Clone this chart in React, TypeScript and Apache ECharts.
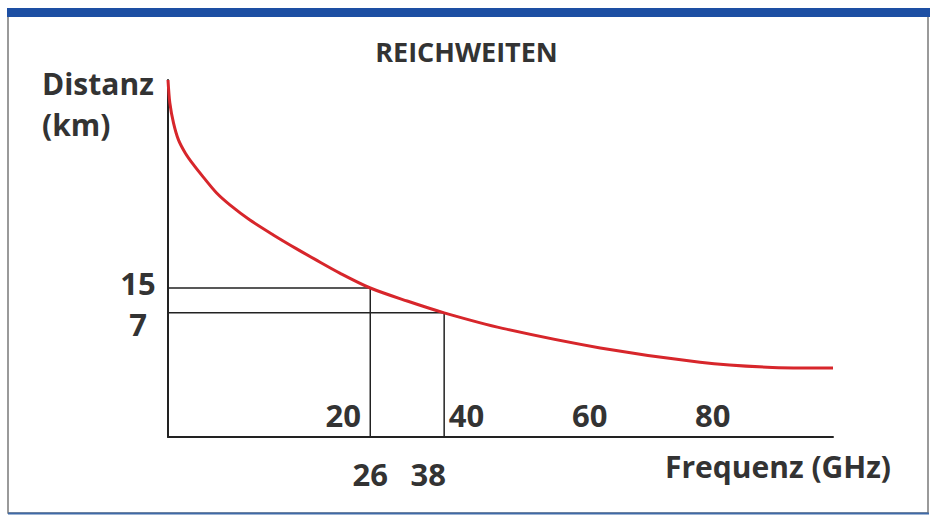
import React, { useEffect, useRef } from "react";
import * as echarts from "echarts";

// Curve: frequency (GHz) vs. range (km), read from the schematic
const curveFreq = [-6.85, -6.55, -5.95, -5.15, -4.05, -2.75, -1.15, 1.05, 3.25, 6.45, 10.25, 14.05, 17.05, 21.05, 26, 32, 38, 47.5, 63.35, 79.55, 90.45, 101.15];
const curveKm = [82, 74.6, 68.1, 62.7, 58.5, 54.8, 50.8, 45.6, 41.7, 36.9, 32.1, 27.6, 24.2, 19.8, 15, 10.8, 7, 2, -4.3, -8.9, -10.5, -10.8];

// Marked operating points
const markFreq = [26, 38];
const markKm = [15, 7];

// Frequency tick labels shown above the axis
const freqTicks = [20, 40, 60, 80];

const X_MIN = -6.85;
const X_MAX = 101.15;
const Y_MIN = -33;
const Y_MAX = 82;

const FONT = "'Open Sans', 'Noto Sans', sans-serif";
const TEXT = "#333333";
const INK = "#222222";

export default function App() {
  const ref = useRef<HTMLDivElement>(null);

  useEffect(() => {
    if (!ref.current) return;
    const chart = echarts.init(ref.current, null, { renderer: "svg" });

    const labelStyle = {
      fontFamily: FONT,
      fontSize: 31,
      fontWeight: "bold" as const,
      color: TEXT,
    };

    const guideSeries = markFreq.map((f, i) => ({
      type: "line" as const,
      name: `guide${i}`,
      data: [
        [X_MIN, markKm[i]],
        [f, markKm[i]],
        [f, Y_MIN],
      ],
      symbol: "none",
      lineStyle: { color: INK, width: 1.5 },
      z: 2,
      silent: true,
    }));

    // one y axis per marked distance so that the two labels never hide each other;
    // the upper label sits slightly above its line, the lower one below it
    const yLabelPads = [
      [0, 0, 10, 0],
      [22, 0, 0, 0],
    ];
    const yAxes = markKm.map((km, i) => ({
      type: "value" as const,
      min: Y_MIN,
      max: Y_MAX,
      position: "left" as const,
      axisLine: { show: i === 0, onZero: false, lineStyle: { color: INK, width: 2 } },
      axisTick: { show: false },
      splitLine: { show: false },
      axisLabel: {
        align: "center",
        margin: 30,
        hideOverlap: false,
        customValues: [km],
        formatter: "{v|{value}}",
        rich: { v: { ...labelStyle, align: "center", padding: yLabelPads[i] } },
      },
    }));

    // bottom mark labels: the second one sits a little left of its line
    const xMarkPads = [
      [0, 0, 0, 0],
      [0, 32, 0, 0],
    ];
    const markRich: Record<string, object> = {};
    markFreq.forEach((_, i) => {
      markRich[`m${i}`] = { ...labelStyle, align: "center", padding: xMarkPads[i] };
    });

    chart.setOption({
      animation: false,
      backgroundColor: "#ffffff",
      title: {
        text: "REICHWEITEN",
        left: "center",
        top: 33,
        textStyle: { fontFamily: FONT, fontSize: 27, fontWeight: "bold", color: TEXT },
      },
      grid: { left: 168, right: 100, top: 80, bottom: 78, containLabel: false, outerBoundsMode: "none" },
      xAxis: [
        {
          type: "value",
          min: X_MIN,
          max: X_MAX,
          position: "bottom",
          axisLine: { show: true, onZero: false, lineStyle: { color: INK, width: 2 } },
          axisTick: { show: false },
          splitLine: { show: false },
          axisLabel: {
            inside: true,
            margin: 7,
            hideOverlap: false,
            customValues: freqTicks,
            formatter: "{t|{value}}",
            rich: { t: { ...labelStyle, align: "center", padding: [0, 0, 0, 20] } },
          },
        },
        {
          type: "value",
          min: X_MIN,
          max: X_MAX,
          position: "bottom",
          axisLine: { show: false, onZero: false },
          axisTick: { show: false },
          splitLine: { show: false },
          axisLabel: {
            margin: 21,
            hideOverlap: false,
            customValues: markFreq,
            formatter: (v: number) => `{m${Math.max(0, markFreq.indexOf(v))}|${v}}`,
            rich: markRich,
          },
        },
      ],
      yAxis: yAxes,
      series: [
        {
          type: "line",
          name: "Reichweite",
          data: curveFreq.map((f, i) => [f, curveKm[i]]),
          smooth: 0.3,
          symbol: "none",
          lineStyle: { color: "#d7262b", width: 3 },
          z: 3,
        },
        ...guideSeries,
      ],
      graphic: [
        {
          type: "rect",
          z: -10,
          shape: { x: 8, y: 12, width: 920, height: 501 },
          style: { fill: "none", stroke: "#7a7a7a", lineWidth: 1.5 },
        },
        {
          type: "rect",
          z: -5,
          shape: { x: 7, y: 8, width: 923, height: 9 },
          style: { fill: "#1d4fa3" },
        },
        {
          type: "line",
          z: -5,
          shape: { x1: 8, y1: 513.5, x2: 929, y2: 513.5 },
          style: { stroke: "#3f6aa8", lineWidth: 2 },
        },
        {
          type: "text",
          left: 42,
          top: 63,
          style: {
            text: "Distanz\n(km)",
            fontFamily: FONT,
            fontSize: 30,
            fontWeight: "bold",
            fill: TEXT,
            lineHeight: 41,
          },
        },
        {
          type: "text",
          left: 665,
          top: 451,
          style: {
            text: "Frequenz (GHz)",
            fontFamily: FONT,
            fontSize: 30,
            fontWeight: "bold",
            fill: TEXT,
          },
        },
      ],
    });

    return () => chart.dispose();
  }, []);

  return (
    <div
      ref={ref}
      style={{ position: "fixed", left: 0, top: 0, width: 933, height: 515 }}
    />
  );
}
